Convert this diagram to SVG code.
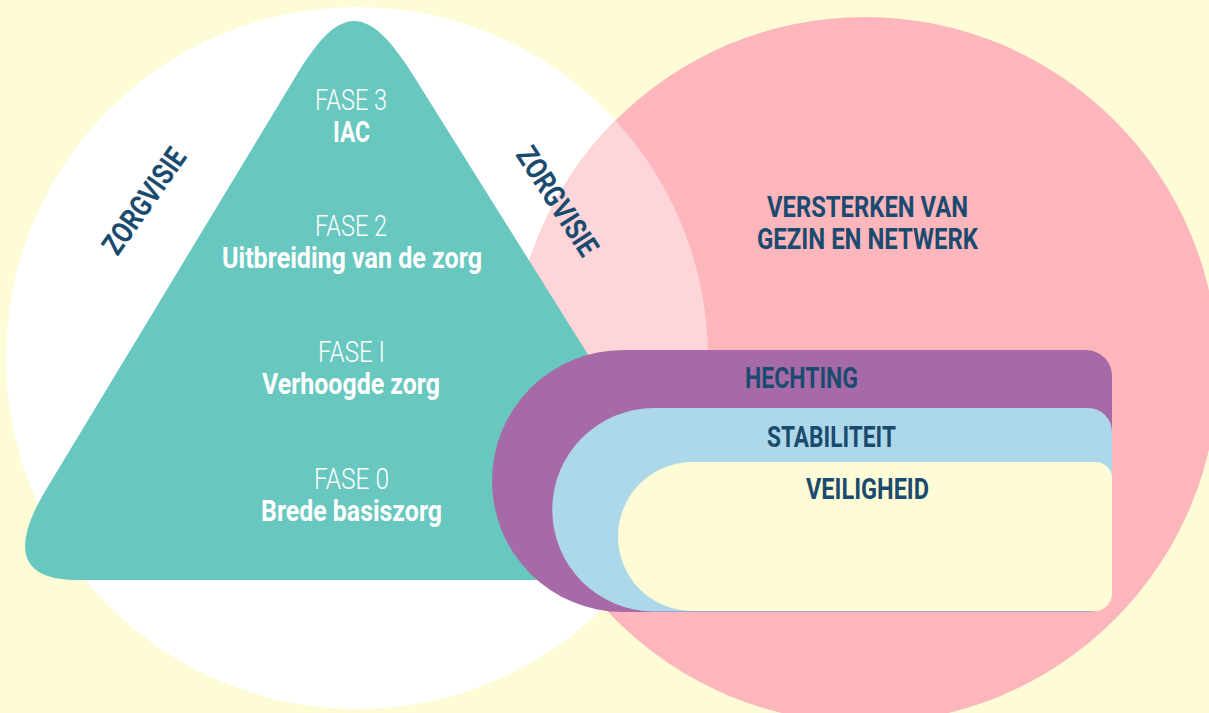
<svg xmlns="http://www.w3.org/2000/svg" width="1209" height="713" viewBox="0 0 1209 713">
  <style>
    .lt { font-family: Roboto, "Liberation Sans", sans-serif; font-size: 30px; font-weight: 300; fill: #ffffff; }
    .bw { font-family: Roboto, "Liberation Sans", sans-serif; font-size: 30px; font-weight: 700; fill: #ffffff; }
    .bd { font-family: Roboto, "Liberation Sans", sans-serif; font-size: 30px; font-weight: 700; fill: #1A4B6F; }
  </style>
  <defs>
    <clipPath id="whiteClip">
      <circle cx="357" cy="358" r="351"/>
    </clipPath>
  </defs>
  <rect id="background" x="0" y="0" width="1209" height="713" fill="#FEFBD7"/>
  <g id="circle-zorg">
    <circle cx="357" cy="358" r="351" fill="#FFFFFF"/>
  </g>
  <g id="circle-netwerk">
    <circle cx="865" cy="370" r="353" fill="#FDB6BC"/>
    <circle cx="865" cy="370" r="353" fill="#FED5D8" clip-path="url(#whiteClip)"/>
  </g>
  <g id="triangle-fasen">
    <path d="M 296.6 75 C 340 3 368 3 413 75 L 729 580 L 78 580 Q -9 580 47 488 Z" fill="#68C7BE"/>
    <text class="lt" x="315" y="110" textLength="72" lengthAdjust="spacingAndGlyphs">FASE 3</text>
    <text class="bw" x="333" y="142" textLength="37" lengthAdjust="spacingAndGlyphs">IAC</text>
    <text class="lt" x="315" y="236" textLength="72" lengthAdjust="spacingAndGlyphs">FASE 2</text>
    <text class="bw" x="222" y="268" textLength="260" lengthAdjust="spacingAndGlyphs">Uitbreiding van de zorg</text>
    <text class="lt" x="318" y="362" textLength="67" lengthAdjust="spacingAndGlyphs">FASE I</text>
    <text class="bw" x="262" y="394" textLength="178" lengthAdjust="spacingAndGlyphs">Verhoogde zorg</text>
    <text class="lt" x="314" y="489" textLength="75" lengthAdjust="spacingAndGlyphs">FASE 0</text>
    <text class="bw" x="261" y="521" textLength="181" lengthAdjust="spacingAndGlyphs">Brede basiszorg</text>
  </g>
  <g id="label-zorgvisie-left" transform="translate(144 201) rotate(-55)">
    <text class="bd" x="-61" y="10.5" textLength="122" lengthAdjust="spacingAndGlyphs">ZORGVISIE</text>
  </g>
  <g id="label-zorgvisie-right" transform="translate(557.5 201) rotate(57)">
    <text class="bd" x="-62" y="10.5" textLength="124" lengthAdjust="spacingAndGlyphs">ZORGVISIE</text>
  </g>
  <g id="label-netwerk">
    <text class="bd" x="767" y="216.5" textLength="201" lengthAdjust="spacingAndGlyphs">VERSTERKEN VAN</text>
    <text class="bd" x="757" y="248.5" textLength="221" lengthAdjust="spacingAndGlyphs">GEZIN EN NETWERK</text>
  </g>
  <g id="layer-hechting">
    <path d="M 623 350 H 1086 A 26 26 0 0 1 1112 376 V 587 A 25 25 0 0 1 1087 612 H 623 A 131 131 0 0 1 623 350 Z" fill="#A76AA8"/>
    <text class="bd" x="745" y="388" textLength="113" lengthAdjust="spacingAndGlyphs">HECHTING</text>
  </g>
  <g id="layer-stabiliteit">
    <path d="M 654 408 H 1088 A 24 24 0 0 1 1112 432 V 588 A 23 23 0 0 1 1089 611.5 H 654 A 101.75 101.75 0 0 1 654 408 Z" fill="#ADD8E9"/>
    <text class="bd" x="767" y="447" textLength="129" lengthAdjust="spacingAndGlyphs">STABILITEIT</text>
  </g>
  <g id="layer-veiligheid">
    <path d="M 692.5 462 H 1096 A 16 16 0 0 1 1112 478 V 594 A 17 17 0 0 1 1095 611 H 692.5 A 74.5 74.5 0 0 1 692.5 462 Z" fill="#FEFBD7"/>
    <text class="bd" x="806" y="499" textLength="123" lengthAdjust="spacingAndGlyphs">VEILIGHEID</text>
  </g>
  <g id="connectors"/>
</svg>
